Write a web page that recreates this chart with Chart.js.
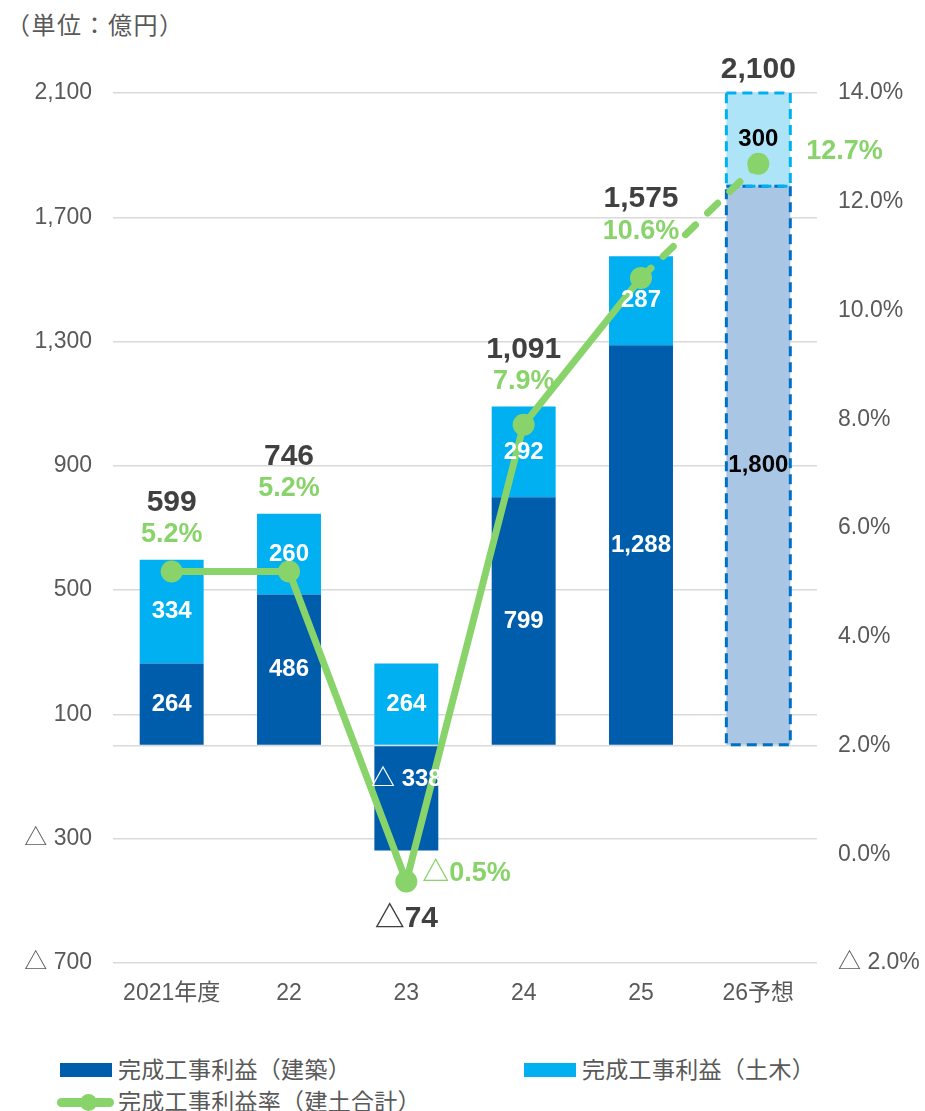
<!DOCTYPE html>
<html>
<head>
<meta charset="utf-8">
<script src="https://cdn.jsdelivr.net/npm/chart.js@4"></script>
<style>
  body { margin: 0; width: 925px; height: 1111px; position: relative; overflow: hidden; background: #fff;
         font-family: "Liberation Sans", Arial, "Noto Sans CJK JP", sans-serif; color: #595959; }
  #unit { position: absolute; left: 6px; top: 6px; font-size: 24px; letter-spacing: 1.5px; }
  #wrap { position: absolute; left: 0; top: 0; width: 925px; height: 1030px; }
  .leg { position: absolute; font-size: 23px; line-height: 24px; letter-spacing: 0.3px; white-space: nowrap; }
  .box { position: absolute; width: 52px; height: 14px; }
</style>
</head>
<body>
<div id="unit">（単位：億円）</div>
<div id="wrap"><canvas id="myChart"></canvas></div>

<div class="box" style="left:60px;top:1063px;background:#005DAC"></div>
<div class="leg" style="left:118px;top:1058px">完成工事利益（建築）</div>
<div class="box" style="left:524px;top:1063px;background:#00B0F0"></div>
<div class="leg" style="left:582px;top:1058px">完成工事利益（土木）</div>
<div style="position:absolute;left:57px;top:1098px;width:57px;height:9px;border-radius:5px;background:#89D36B"></div>
<div style="position:absolute;left:80px;top:1094px;width:17px;height:17px;border-radius:50%;background:#89D36B"></div>
<div class="leg" style="left:118px;top:1090px">完成工事利益率（建土合計）</div>

<script>
const categories = ['2021年度', '22', '23', '24', '25', '26予想'];
const kenchiku = [264, 486, -338, 799, 1288, 1800];   // 建築
const doboku = [334, 260, 264, 292, 287, 300];        // 土木
const totals = [599, 746, -74, 1091, 1575, 2100];
const marginRate = [5.2, 5.2, -0.5, 7.9, 10.6, 12.7]; // %
const forecastIndex = 5;

const darkBlue = '#005DAC', lightBlue = '#00B0F0', green = '#89D36B';
const fontFam = '"Liberation Sans", Arial, "Noto Sans CJK JP", sans-serif';

const fmtNum = v => (v < 0 ? '△ ' : '') + Math.abs(v).toLocaleString('en-US');

const labelPlugin = {
  id: 'labels',
  beforeDatasetDraw(chart, args) {
    // dashed outline for the forecast bar, after bars and before the line
    if (args.index !== 2) return;
    const ctx = chart.ctx;
    [[0, '#0070C0'], [1, lightBlue]].forEach(([di, col]) => {
      const el = chart.getDatasetMeta(di).data[forecastIndex];
      const top = Math.min(el.y, el.base), bot = Math.max(el.y, el.base);
      ctx.save();
      ctx.strokeStyle = col;
      ctx.lineWidth = 3;
      ctx.setLineDash([10, 6]);
      ctx.strokeRect(el.x - el.width / 2, top, el.width, bot - top);
      ctx.restore();
    });
  },
  afterDatasetsDraw(chart) {
    const ctx = chart.ctx;
    const dark = chart.getDatasetMeta(0).data;
    const light = chart.getDatasetMeta(1).data;
    const pts = chart.getDatasetMeta(2).data;
    ctx.save();
    ctx.textAlign = 'center';
    ctx.textBaseline = 'middle';
    // values inside segments
    ctx.font = 'bold 24px ' + fontFam;
    [[dark, kenchiku], [light, doboku]].forEach(([els, vals]) => {
      els.forEach((el, i) => {
        const v = vals[i];
        const y = v < 0 ? el.base + 33 : (el.y + el.base) / 2;
        ctx.fillStyle = i === forecastIndex ? '#000' : '#fff';
        ctx.fillText(fmtNum(v), el.x, y);
      });
    });
    // totals and margin rates
    totals.forEach((t, i) => {
      const barTop = light[i].y;
      const p = pts[i];
      const pct = (marginRate[i] < 0 ? '△' : '') + Math.abs(marginRate[i]).toFixed(1) + '%';
      const tot = (t < 0 ? '△' : '') + Math.abs(t).toLocaleString('en-US');
      let tx = light[i].x, ty, px = light[i].x, py, align = 'center';
      if (t < 0) {
        ty = p.y + 37; px = p.x + 16; py = p.y - 8; align = 'left';
      } else if (i === forecastIndex) {
        ty = barTop - 23; px = light[i].x + light[i].width / 2 + 16; py = p.y - 12; align = 'left';
      } else {
        ty = barTop - 57; py = barTop - 25;
      }
      ctx.font = 'bold 30px ' + fontFam;
      ctx.fillStyle = '#404040';
      ctx.textAlign = 'center';
      ctx.fillText(tot, tx, ty);
      ctx.font = 'bold 27px ' + fontFam;
      ctx.fillStyle = green;
      ctx.textAlign = align;
      ctx.fillText(pct, px, py);
    });
    ctx.restore();
  }
};

const config = {
  type: 'bar',
  data: {
    labels: categories,
    datasets: [
      {
        label: '完成工事利益（建築）',
        data: kenchiku,
        backgroundColor: kenchiku.map((v, i) => i === forecastIndex ? '#A9C7E4' : darkBlue),
        barPercentage: 0.545,
        categoryPercentage: 1,
        order: 1
      },
      {
        label: '完成工事利益（土木）',
        data: doboku,
        backgroundColor: doboku.map((v, i) => i === forecastIndex ? '#AEE4F8' : lightBlue),
        barPercentage: 0.545,
        categoryPercentage: 1,
        order: 1
      },
      {
        type: 'line',
        label: '完成工事利益率（建土合計）',
        data: marginRate,
        yAxisID: 'y2',
        borderColor: green,
        backgroundColor: green,
        borderWidth: 7,
        borderCapStyle: 'round',
        borderJoinStyle: 'round',
        pointRadius: 11,
        pointBorderWidth: 0,
        pointBackgroundColor: green,
        tension: 0,
        order: 0,
        segment: {
          borderDash: ctx => ctx.p1DataIndex === forecastIndex ? [14, 17] : undefined
        }
      }
    ]
  },
  options: {
    responsive: true,
    maintainAspectRatio: false,
    animation: false,
    layout: { padding: { top: 93, bottom: 7, left: 0, right: 0 } },
    plugins: {
      legend: { display: false },
      tooltip: { enabled: false }
    },
    scales: {
      x: {
        stacked: true,
        grid: { display: false, drawTicks: false },
        border: { display: false },
        ticks: { color: '#595959', font: { size: 23, family: fontFam }, padding: 17 },
        afterFit: s => { s.height = 60; }
      },
      y: {
        stacked: true,
        position: 'left',
        min: -700,
        max: 2100,
        ticks: {
          stepSize: 400,
          autoSkip: false,
          padding: 21,
          color: '#595959',
          font: { size: 23, family: fontFam },
          callback: v => v === 0 ? '' : fmtNum(v)
        },
        afterBuildTicks: s => {
          s.ticks.push({ value: 0 });
          s.ticks.sort((a, b) => a.value - b.value);
        },
        grid: { color: '#D9D9D9', lineWidth: 1.5, drawTicks: false },
        border: { display: false },
        afterFit: s => { s.width = 113; }
      },
      y2: {
        position: 'right',
        min: -2,
        max: 14,
        ticks: {
          stepSize: 2,
          padding: 21,
          color: '#595959',
          font: { size: 23, family: fontFam },
          callback: v => (v < 0 ? '△ ' : '') + Math.abs(v).toFixed(1) + '%'
        },
        grid: { display: false, drawTicks: false },
        border: { display: false },
        afterFit: s => { s.width = 108; }
      }
    }
  },
  plugins: [labelPlugin]
};

let myChart = new Chart(document.getElementById('myChart'), config);
</script>
</body>
</html>
